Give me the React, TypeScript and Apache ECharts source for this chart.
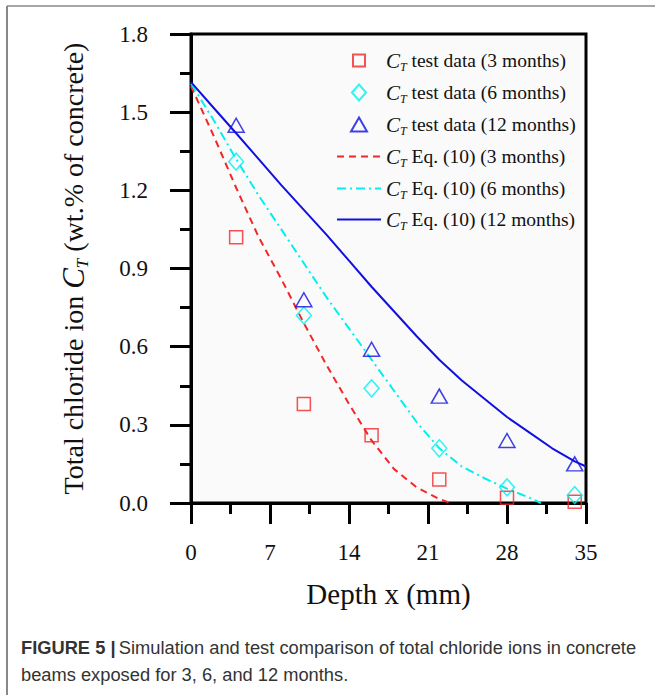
import React, { useEffect, useRef } from "react";
import * as echarts from "echarts";

const depthTest = [4, 10, 16, 22, 28, 34];
const test3 = [1.02, 0.38, 0.26, 0.09, 0.02, 0.005];
const test6 = [1.31, 0.72, 0.44, 0.21, 0.06, 0.03];
const test12 = [1.45, 0.78, 0.59, 0.41, 0.24, 0.15];

const eq3X = [0, 2, 4, 6, 8, 10, 12, 14, 16, 18, 20, 22, 23];
const eq3Y = [1.6, 1.41, 1.21, 1.02, 0.86, 0.69, 0.53, 0.38, 0.24, 0.13, 0.06, 0.015, 0];
const eq6X = [0, 2, 4, 6, 8, 10, 12, 14, 16, 18, 20, 22, 24, 26, 28, 30, 31];
const eq6Y = [1.61, 1.47, 1.32, 1.18, 1.05, 0.92, 0.79, 0.67, 0.55, 0.43, 0.31, 0.21, 0.14, 0.095, 0.055, 0.02, 0];
const eq12X = [0, 2, 4, 6, 8, 10, 12, 14, 16, 18, 20, 22, 24, 26, 28, 30, 32, 34, 35];
const eq12Y = [1.615, 1.517, 1.419, 1.32, 1.22, 1.125, 1.03, 0.93, 0.83, 0.735, 0.64, 0.55, 0.47, 0.4, 0.33, 0.27, 0.21, 0.16, 0.14];

const seriesNames = [
  "CT test data (3 months)",
  "CT test data (6 months)",
  "CT test data (12 months)",
  "CT Eq. (10) (3 months)",
  "CT Eq. (10) (6 months)",
  "CT Eq. (10) (12 months)",
];
const legendTexts = [
  " test data (3 months)",
  " test data (6 months)",
  " test data (12 months)",
  " Eq. (10) (3 months)",
  " Eq. (10) (6 months)",
  " Eq. (10) (12 months)",
];

const xTickLabels = ["0", "7", "14", "21", "28", "35"];

const RED = "#f02828";
const CYAN = "#00f0f0";
const BLUE = "#1010e0";
const SERIF = "'Liberation Serif', 'Times New Roman', serif";
const SANS = "'Liberation Sans', Arial, sans-serif";

const SQUARE = "path://M0,0H10V10H0Z";
const DIAMOND = "path://M7.5,0L15,8.5L7.5,17L0,8.5Z";
const TRIANGLE = "path://M8,0L16,14H0Z";

const zip = (xs: number[], ys: number[]) => xs.map((x, i) => [x, ys[i]]);

export default function App() {
  const ref = useRef<HTMLDivElement>(null);
  useEffect(() => {
    if (!ref.current) return;
    const chart = echarts.init(ref.current, undefined, { renderer: "svg" });
    const scatter = (i: number, ys: number[], color: string, symbol: string, size: any) => ({
      type: "scatter",
      name: seriesNames[i],
      data: zip(depthTest, ys),
      symbol,
      symbolSize: size,
      itemStyle: { color: "rgba(255,255,255,0)", borderColor: color, borderWidth: 1.5 },
      z: 3,
    });
    const line = (i: number, xs: number[], ys: number[], color: string, type: any) => ({
      type: "line",
      name: seriesNames[i],
      data: zip(xs, ys),
      symbol: "none",
      showSymbol: false,
      smooth: false,
      lineStyle: { color, width: 2, type },
      itemStyle: { color },
      z: 2,
    });
    const legendRich = {
      a: { fontFamily: SERIF, fontSize: 19.5, color: "#111", lineHeight: 24, verticalAlign: "middle" },
      c: { fontFamily: SERIF, fontSize: 21, fontStyle: "italic", color: "#111", lineHeight: 24, verticalAlign: "middle" },
      t: { fontFamily: SERIF, fontSize: 12, fontStyle: "italic", color: "#111", lineHeight: 24, verticalAlign: "bottom" },
    };
    const rowCenters = [60, 92, 124, 156, 188, 219];
    const legendIcons: any[] = [
      { icon: SQUARE, h: 12, w: 12 },
      { icon: DIAMOND, h: 16, w: 14.1 },
      { icon: TRIANGLE, h: 14, w: 16 },
      { icon: "line", h: 12, w: 44, style: { color: RED, borderColor: RED, borderWidth: 2, borderType: [7, 5] } },
      { icon: "line", h: 12, w: 44, style: { color: CYAN, borderColor: CYAN, borderWidth: 2, borderType: [9, 4, 2, 4] } },
      { icon: "line", h: 12, w: 44, style: { color: BLUE, borderColor: BLUE, borderWidth: 2, borderType: "solid" } },
    ];
    const legends = seriesNames.map((name, i) => ({
      left: 336 + (44 - legendIcons[i].w) / 2,
      top: rowCenters[i] - 10,
      padding: 0,
      orient: "vertical",
      itemWidth: 44,
      itemHeight: legendIcons[i].h,
      symbolKeepAspect: true,
      data: [
        legendIcons[i].style
          ? { name, icon: legendIcons[i].icon, itemStyle: legendIcons[i].style }
          : { name, icon: legendIcons[i].icon },
      ],
      formatter: () => "{c|C}{t|T}{a|" + legendTexts[i] + "}",
      textStyle: { rich: legendRich },
    }));
    const option: any = {
      animation: false,
      backgroundColor: "#ffffff",
      grid: {
        left: 191,
        top: 34,
        width: 395,
        height: 469,
        show: true,
        borderColor: "#000",
        borderWidth: 3,
        backgroundColor: "#fafafa",
      },
      xAxis: {
        type: "value",
        min: 0,
        max: 35,
        interval: 7,
        name: "Depth x (mm)",
        nameLocation: "middle",
        nameGap: 76,
        nameTextStyle: { fontFamily: SERIF, fontSize: 29, color: "#111" },
        axisLine: { show: true, onZero: false, lineStyle: { color: "#000", width: 3 } },
        axisTick: { show: true, inside: false, length: 21, lineStyle: { color: "#000", width: 3 } },
        minorTick: { show: true, splitNumber: 2, length: 11, lineStyle: { color: "#000", width: 3 } },
        splitLine: { show: false },
        axisLabel: {
          margin: 38,
          fontFamily: SERIF,
          fontSize: 23,
          color: "#111",
          formatter: (v: number) => xTickLabels[Math.round(v / 7)] ?? String(v),
        },
      },
      yAxis: {
        type: "value",
        min: 0,
        max: 1.8,
        interval: 0.3,
        name: "{a|Total chloride ion }{c|C}{t|T}{a| (wt.% of concrete)}",
        nameLocation: "middle",
        nameGap: 100,
        nameRotate: 90,
        nameTextStyle: {
          fontFamily: SERIF,
          color: "#111",
          rich: {
            a: { fontFamily: SERIF, fontSize: 28, color: "#111", lineHeight: 36, verticalAlign: "middle" },
            c: { fontFamily: SERIF, fontSize: 31, fontStyle: "italic", color: "#111", lineHeight: 36, verticalAlign: "middle" },
            t: { fontFamily: SERIF, fontSize: 17, fontStyle: "italic", color: "#111", lineHeight: 36, verticalAlign: "bottom" },
          },
        },
        axisLine: { show: true, lineStyle: { color: "#000", width: 3 } },
        axisTick: { show: true, inside: false, length: 21, lineStyle: { color: "#000", width: 3 } },
        minorTick: { show: true, splitNumber: 2, length: 11, lineStyle: { color: "#000", width: 3 } },
        splitLine: { show: false },
        axisLabel: {
          margin: 43,
          fontFamily: SERIF,
          fontSize: 23,
          color: "#111",
          formatter: (v: number) => v.toFixed(1),
        },
      },
      legend: legends,
      series: [
        scatter(0, test3, RED, SQUARE, 13),
        scatter(1, test6, CYAN, DIAMOND, [15, 17]),
        scatter(2, test12, BLUE, TRIANGLE, [16, 14]),
        line(3, eq3X, eq3Y, RED, [7, 5]),
        line(4, eq6X, eq6Y, CYAN, [9, 4, 2, 4]),
        line(5, eq12X, eq12Y, BLUE, "solid"),
      ],
      graphic: [
        { type: "line", shape: { x1: 7, y1: 6, x2: 655, y2: 6 }, style: { stroke: "#888", lineWidth: 1.5 } },
        { type: "line", shape: { x1: 7, y1: 6, x2: 7, y2: 695 }, style: { stroke: "#888", lineWidth: 2 } },
        {
          type: "text",
          left: 21,
          top: 638,
          style: {
            text: "{b|FIGURE 5 |} {n|Simulation and test comparison of total chloride ions in concrete}",
            rich: {
              b: { fontFamily: SANS, fontSize: 18.3, fontWeight: "bold", fill: "#333" },
              n: { fontFamily: SANS, fontSize: 18.3, fill: "#333" },
            },
          },
        },
        {
          type: "text",
          left: 21,
          top: 665,
          style: {
            text: "beams exposed for 3, 6, and 12 months.",
            fontFamily: SANS,
            fontSize: 18.3,
            fill: "#333",
          },
        },
      ],
    };
    chart.setOption(option);
    return () => chart.dispose();
  }, []);
  return (
    <div
      ref={ref}
      style={{ position: "fixed", left: 0, top: 0, width: 655, height: 695, background: "#fff" }}
    />
  );
}
